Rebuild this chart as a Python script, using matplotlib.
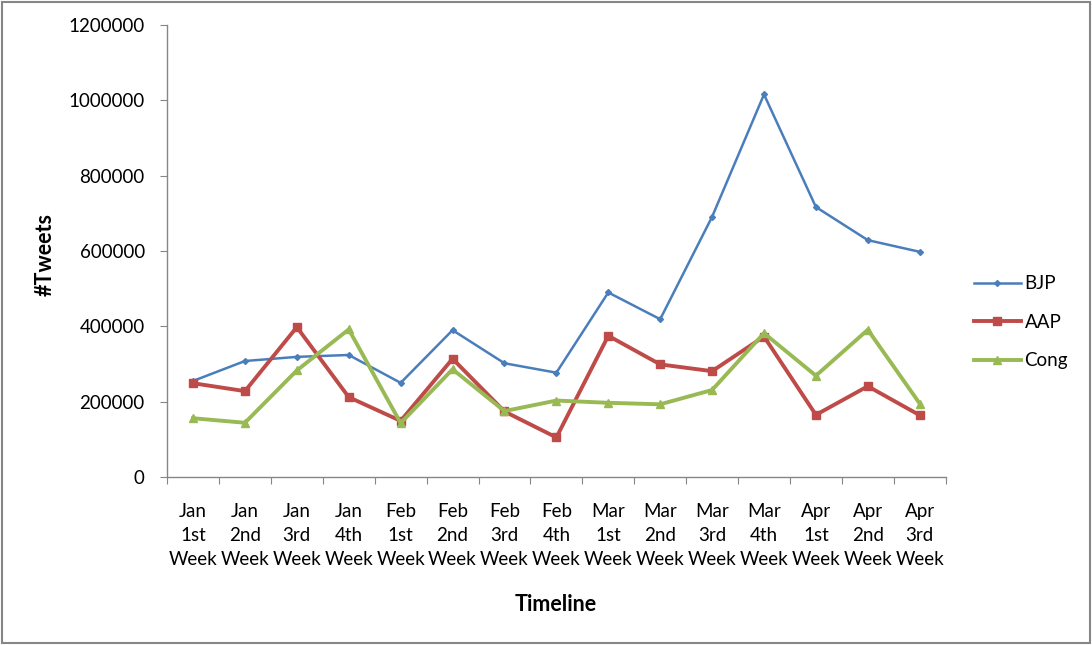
import matplotlib

# Sin interfaz gráfica
matplotlib.use("Agg")

import matplotlib.pyplot as plt
import numpy as np
from matplotlib.patches import Rectangle

# Datos
semanas = [
    "Jan\n1st\nWeek", "Jan\n2nd\nWeek", "Jan\n3rd\nWeek", "Jan\n4th\nWeek",
    "Feb\n1st\nWeek", "Feb\n2nd\nWeek", "Feb\n3rd\nWeek", "Feb\n4th\nWeek",
    "Mar\n1st\nWeek", "Mar\n2nd\nWeek", "Mar\n3rd\nWeek", "Mar\n4th\nWeek",
    "Apr\n1st\nWeek", "Apr\n2nd\nWeek", "Apr\n3rd\nWeek",
]

bjp = [255000, 308000, 319000, 324000, 250000, 390000, 302000, 277000,
       490000, 419000, 691000, 1016000, 717000, 629000, 598000]

aap = [249000, 228000, 398000, 212000, 149000, 314000, 174000, 105000,
       375000, 299000, 281000, 373000, 165000, 241000, 164000]

cong = [156000, 144000, 283000, 392000, 143000, 286000, 175000, 203000,
        197000, 193000, 231000, 382000, 269000, 391000, 195000]

y_ticks = [0, 200000, 400000, 600000, 800000, 1000000, 1200000]

plt.rcParams["font.family"] = ["Lato", "DejaVu Sans"]

GRIS = "#868686"

fig = plt.figure(figsize=(10.92, 6.45), dpi=100)
ax = fig.add_axes([0.153, 0.2605, 0.713, 0.7005])

x = np.arange(len(semanas))

ax.plot(x, bjp, color="#4A7EBB", linewidth=1.8, marker="D",
        markersize=3, label="BJP")
ax.plot(x, aap, color="#BE4B48", linewidth=2.8, marker="s",
        markersize=5.5, label="AAP")
ax.plot(x, cong, color="#98B954", linewidth=2.8, marker="^",
        markersize=5.5, label="Cong")

# Ejes
ax.set_xlim(-0.5, len(semanas) - 0.5)
ax.set_ylim(0, 1200000)

ax.set_yticks(y_ticks)
ax.set_yticklabels([str(v) for v in y_ticks], fontsize=13.5)

# Marcas en los límites de cada categoría, etiquetas en el centro
ax.set_xticks(np.arange(-0.5, len(semanas), 1))
ax.set_xticklabels([])
ax.set_xticks(x, minor=True)
ax.set_xticklabels(semanas, minor=True, fontsize=13.5, linespacing=1.5)
ax.tick_params(axis="x", which="minor", length=0, pad=19)
ax.tick_params(axis="x", which="major", length=5, color=GRIS,
               direction="out")
ax.tick_params(axis="y", length=5, color=GRIS, direction="out", pad=11)

for lado in ["top", "right"]:
    ax.spines[lado].set_visible(False)
for lado in ["left", "bottom"]:
    ax.spines[lado].set_color(GRIS)
    ax.spines[lado].set_linewidth(1)

# Títulos de ejes
fig.text(0.041, 0.605, "#Tweets", rotation=90, fontsize=15.5,
         fontweight="bold", ha="center", va="center")
fig.text(0.509, 0.063, "Timeline", fontsize=15.5, fontweight="bold",
         ha="center", va="center")

# Leyenda
fig.legend(loc="upper left", bbox_to_anchor=(0.885, 0.585),
           frameon=False, fontsize=13.5, handlelength=2.5,
           handletextpad=0.2, labelspacing=1.15, borderaxespad=0)

# Borde de la figura
fig.patches.append(Rectangle((0.002, 0.003), 0.996, 0.994,
                             transform=fig.transFigure, fill=False,
                             edgecolor=GRIS, linewidth=1.5))

plt.savefig("out.png", dpi=100)
plt.close()
